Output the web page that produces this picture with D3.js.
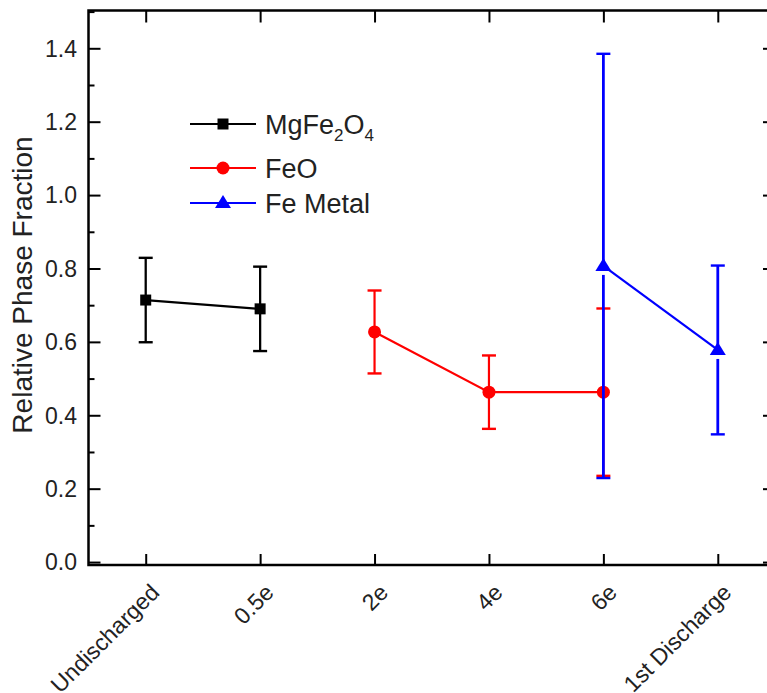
<!DOCTYPE html>
<html>
<head>
<meta charset="utf-8">
<script src="https://cdn.jsdelivr.net/npm/d3@7/dist/d3.min.js"></script>
<style>
  html, body { margin: 0; padding: 0; background: #fff; }
  svg { display: block; font-family: "Liberation Sans", Arial, sans-serif; }
</style>
</head>
<body>
<script>
// ---- data ----
const categories = ["Undischarged", "0.5e", "2e", "4e", "6e", "1st Discharge"];
const mgFe2O4Index = [0, 1];
const mgFe2O4Values = [0.714, 0.690];
const mgFe2O4Errors = [0.115, 0.115];
const feOIndex = [2, 3, 4];
const feOValues = [0.627, 0.463, 0.463];
const feOErrors = [0.113, 0.100, 0.228];
const feMetalIndex = [4, 5];
const feMetalValues = [0.807, 0.578];
const feMetalErrors = [0.578, 0.230];
const yTicks = [0.0, 0.2, 0.4, 0.6, 0.8, 1.0, 1.2, 1.4];
const yMinorTicks = [0.1, 0.3, 0.5, 0.7, 0.9, 1.1, 1.3, 1.5];

const W = 767, H = 693;
const mLeft = 88.5, mRight = 775, mTop = 10.5, mBottom = 565;

const svg = d3.select("body").append("svg").attr("width", W).attr("height", H);

const x = d3.scaleLinear().domain([-0.5, 5.5]).range([mLeft, mRight]);
const y = d3.scaleLinear().domain([-0.008, 1.503]).range([mBottom, mTop]);

// axes (ticks inward)
const g = svg.append("g");
const tickW = 2;
function styleAxis(s) {
  s.select(".domain").remove();
  s.selectAll("line").attr("stroke", "#000").attr("stroke-width", tickW);
}
g.append("g").attr("transform", `translate(${mLeft},0)`)
  .call(d3.axisRight(y).tickValues(yTicks).tickSize(12).tickFormat("")).call(styleAxis);
g.append("g").attr("transform", `translate(${mLeft},0)`)
  .call(d3.axisRight(y).tickValues(yMinorTicks).tickSize(6).tickFormat("")).call(styleAxis);
g.append("g").attr("transform", `translate(${mRight},0)`)
  .call(d3.axisLeft(y).tickValues(yTicks).tickSize(12).tickFormat("")).call(styleAxis);
g.append("g").attr("transform", `translate(${mRight},0)`)
  .call(d3.axisLeft(y).tickValues(yMinorTicks).tickSize(6).tickFormat("")).call(styleAxis);
g.append("g").attr("transform", `translate(0,${mBottom})`)
  .call(d3.axisTop(x).tickValues(d3.range(categories.length)).tickSize(11).tickFormat("")).call(styleAxis);
g.append("g").attr("transform", `translate(0,${mTop})`)
  .call(d3.axisBottom(x).tickValues(d3.range(categories.length)).tickSize(12).tickFormat("")).call(styleAxis);

// frame
svg.append("rect").attr("x", mLeft).attr("y", mTop)
  .attr("width", mRight - mLeft).attr("height", mBottom - mTop)
  .attr("fill", "none").attr("stroke", "#000").attr("stroke-width", 2.5);

// y tick labels
svg.append("g").selectAll("text").data(yTicks).join("text")
  .attr("x", 77).attr("y", d => y(d)).attr("dy", "0.36em")
  .attr("text-anchor", "end").attr("font-size", 23).attr("fill", "#222")
  .text(d => d.toFixed(1));

// x tick labels
svg.append("g").selectAll("text").data(categories).join("text")
  .attr("transform", (d, i) => `translate(${x(i) + 15},${mBottom + 29}) rotate(-45)`)
  .attr("text-anchor", "end").attr("font-size", 23).attr("fill", "#222")
  .text(d => d);

// y title
svg.append("text")
  .attr("transform", `translate(32,285) rotate(-90)`)
  .attr("text-anchor", "middle").attr("font-size", 28).attr("fill", "#222")
  .text("Relative Phase Fraction");

// series drawing
function drawSeries(idx, vals, errs, color, marker, gapBelow, barW) {
  const grp = svg.append("g");
  const pts = idx.map((i, k) => ({ i, v: vals[k], e: errs[k] }));
  pts.forEach(p => {
    const cx = x(p.i);
    if (gapBelow) {
      grp.append("line").attr("x1", cx).attr("x2", cx)
        .attr("y1", y(p.v + p.e)).attr("y2", y(p.v))
        .attr("stroke", color).attr("stroke-width", barW);
      grp.append("line").attr("x1", cx).attr("x2", cx)
        .attr("y1", y(p.v) + gapBelow).attr("y2", y(p.v - p.e))
        .attr("stroke", color).attr("stroke-width", barW);
    } else {
      grp.append("line").attr("x1", cx).attr("x2", cx)
        .attr("y1", y(p.v + p.e)).attr("y2", y(p.v - p.e))
        .attr("stroke", color).attr("stroke-width", barW);
    }
    [p.v + p.e, p.v - p.e].forEach(v => {
      grp.append("line").attr("x1", cx - 7).attr("x2", cx + 7)
        .attr("y1", y(v)).attr("y2", y(v))
        .attr("stroke", color).attr("stroke-width", 2.4);
    });
  });
  grp.append("path").datum(pts)
    .attr("d", d3.line().x(p => x(p.i)).y(p => y(p.v)))
    .attr("fill", "none").attr("stroke", color).attr("stroke-width", 2.2);
  grp.selectAll(".m").data(pts).join("path")
    .attr("transform", p => `translate(${x(p.i)},${y(p.v)})`)
    .attr("d", marker).attr("fill", color);
}

const squarePath = "M-5.5,-5.5H5.5V5.5H-5.5Z";
const circlePath = d3.symbol(d3.symbolCircle, Math.PI * 6.5 * 6.5)();
const trianglePath = "M0,-8L8,5H-8Z";

drawSeries(mgFe2O4Index, mgFe2O4Values, mgFe2O4Errors, "#000000", squarePath, 0, 2.3);
drawSeries(feOIndex, feOValues, feOErrors, "#ff0000", circlePath, 0, 2.2);
drawSeries(feMetalIndex, feMetalValues, feMetalErrors, "#0000ff", trianglePath, 9, 2.8);

// legend
const legendItems = [
  { name: ["MgFe", "2", "O", "4"], color: "#000000", marker: squarePath, ly: 124 },
  { name: ["FeO"], color: "#ff0000", marker: circlePath, ly: 168 },
  { name: ["Fe Metal"], color: "#0000ff", marker: trianglePath, ly: 203 }
];
const lg = svg.append("g");
legendItems.forEach(it => {
  lg.append("line").attr("x1", 190).attr("x2", 256).attr("y1", it.ly).attr("y2", it.ly)
    .attr("stroke", it.color).attr("stroke-width", 2.2);
  lg.append("path").attr("transform", `translate(223,${it.ly})`).attr("d", it.marker).attr("fill", it.color);
  const t = lg.append("text").attr("x", 265).attr("y", it.ly + 10)
    .attr("font-size", 27).attr("fill", "#222");
  it.name.forEach((s, k) => {
    const sub = k % 2 === 1;
    t.append("tspan").attr("font-size", sub ? 17 : 27)
      .attr("dy", sub ? 7 : (k > 0 ? -7 : 0)).text(s);
  });
});
</script>
</body>
</html>
